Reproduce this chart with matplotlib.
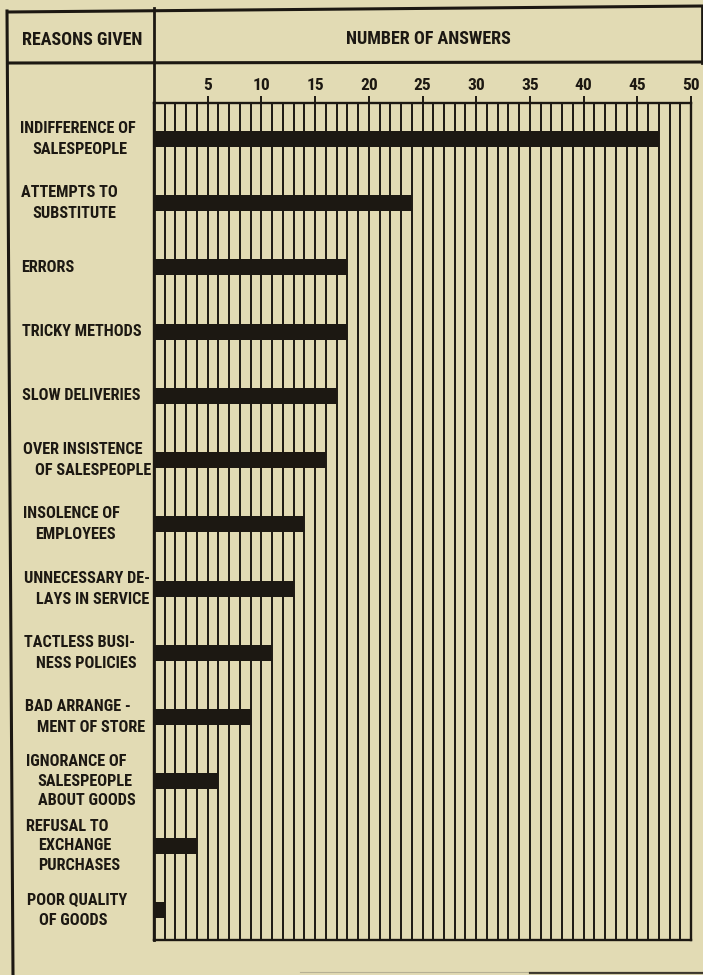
import matplotlib
matplotlib.use("Agg")
import matplotlib.pyplot as plt
import matplotlib.transforms as mtransforms

# ---- data ----
reasons = [
    "INDIFFERENCE OF\nSALESPEOPLE",
    "ATTEMPTS TO\nSUBSTITUTE",
    "ERRORS",
    "TRICKY METHODS",
    "SLOW DELIVERIES",
    "OVER INSISTENCE\nOF SALESPEOPLE",
    "INSOLENCE OF\nEMPLOYEES",
    "UNNECESSARY DE-\nLAYS IN SERVICE",
    "TACTLESS BUSI-\nNESS POLICIES",
    "BAD ARRANGE -\nMENT OF STORE",
    "IGNORANCE OF\nSALESPEOPLE\nABOUT GOODS",
    "REFUSAL TO\nEXCHANGE\nPURCHASES",
    "POOR QUALITY\nOF GOODS",
]
answers = [47, 24, 18, 18, 17, 16, 14, 13, 11, 9, 6, 4, 1]
tick_values = [5, 10, 15, 20, 25, 30, 35, 40, 45, 50]
header_left = "REASONS GIVEN"
header_right = "NUMBER OF ANSWERS"

# ---- style ----
BG = "#E2DBB4"
INK = "#1C1812"
FONT = ["Roboto Condensed", "DejaVu Sans"]
plt.rcParams["font.family"] = FONT

W, H = 703, 975
fig = plt.figure(figsize=(W / 100, H / 100), dpi=100, facecolor=BG)

# overlay axes in pixel units for the frame decoration
over = fig.add_axes([0, 0, 1, 1], zorder=0)
over.set_xlim(0, W)
over.set_ylim(H, 0)
over.axis("off")
over.set_facecolor(BG)

# outer frame and header
over.plot([7, 703], [12, 6], color=INK, lw=2.2, solid_capstyle="butt")
over.plot([7, 13], [11, 975], color=INK, lw=2.2)
over.plot([702, 702], [6, 63], color=INK, lw=2.0)
over.plot([8, 703], [63, 62], color=INK, lw=2.2)
over.plot([154, 154], [8, 940], color=INK, lw=2.0)
over.plot([300, 703], [972, 972], color="#9a9480", lw=0.8, alpha=0.6)
over.plot([530, 703], [973, 973], color=INK, lw=1.6, alpha=0.8)

over.text(82, 40, header_left, ha="center", va="center",
          fontsize=13, fontweight="bold", color=INK)
over.text(428, 39, header_right, ha="center", va="center",
          fontsize=13, fontweight="bold", color=INK)

# chart axes
x0_px, x1_px = 154, 691
ytop_px, ybot_px = 103, 940
row0_px, row_step = 139, 64.25
ax = fig.add_axes([x0_px / W, 1 - ybot_px / H, (x1_px - x0_px) / W,
                   (ybot_px - ytop_px) / H], zorder=2)
ax.set_facecolor("none")
y_low = (ybot_px - row0_px) / row_step
y_high = (ytop_px - row0_px) / row_step
ax.set_xlim(0, 50)
ax.set_ylim(y_low, y_high)

ax.vlines(range(1, 50), y_high, y_low, color=INK, lw=1.4, zorder=2)
pos = list(range(len(answers)))
ax.barh(pos, answers, height=16 / row_step, color=INK, zorder=3)

for s in ax.spines.values():
    s.set_color(INK)
    s.set_linewidth(1.7)
ax.set_yticks([])
ax.xaxis.tick_top()
ax.set_xticks(tick_values)
ax.set_xticklabels([str(v) for v in tick_values])
ax.tick_params(axis="x", direction="out", length=5, width=1.4, color=INK,
               pad=2, labelsize=12.5, labelcolor=INK)
for lbl in ax.get_xticklabels():
    lbl.set_fontweight("bold")

# category labels: x in pixels (overlay), y in chart data coordinates
tr = mtransforms.blended_transform_factory(over.transData, ax.transData)
for i, lab in enumerate(reasons):
    lines = lab.split("\n")
    n = len(lines)
    gap = (21 if n == 2 else 19.5) / row_step
    first_x = 20 + 0.55 * i
    for k, line in enumerate(lines):
        yy = i + (k - (n - 1) / 2) * gap
        xx = first_x if k == 0 else first_x + 12
        ax.text(xx, yy, line, transform=tr, ha="left", va="center",
                fontsize=11.7, fontweight="bold", color=INK, clip_on=False)

fig.savefig("out.png", dpi=100, facecolor=BG)
